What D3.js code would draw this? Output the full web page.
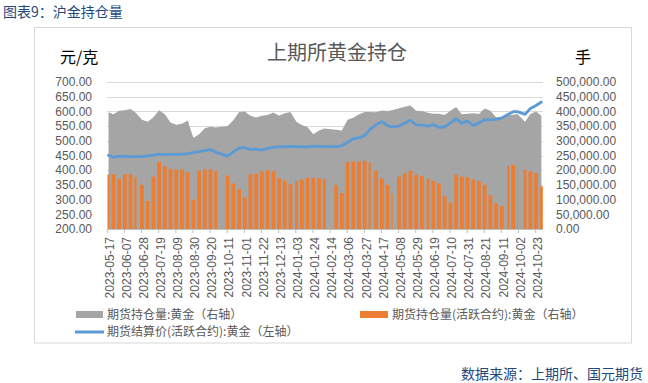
<!DOCTYPE html>
<meta charset="utf-8">
<style>
body { margin: 0; background: #fff; }
text { font-family: "Liberation Sans", Arial, sans-serif; }
.cjk { font-family: "Noto Sans CJK SC", "Liberation Sans", sans-serif; }
.axis-label { font-size: 12px; fill: #595959; }
.grid line { stroke: #d9d9d9; stroke-width: 1; shape-rendering: crispEdges; }
.legend text { font-size: 12px; fill: #595959; }
</style>
<body>
<div id="chart"></div>
<script src="https://cdnjs.cloudflare.com/ajax/libs/d3/7.8.5/d3.min.js"></script>
<script>

// weekly readings (Monday of each trading week)
var weekStarts = [
  "2023-05-15","2023-05-22","2023-05-29","2023-06-05","2023-06-12","2023-06-19","2023-06-26","2023-07-03","2023-07-10","2023-07-17",
  "2023-07-24","2023-07-31","2023-08-07","2023-08-14","2023-08-21","2023-08-28","2023-09-04","2023-09-11","2023-09-18","2023-09-25",
  "2023-10-02","2023-10-09","2023-10-16","2023-10-23","2023-10-30","2023-11-06","2023-11-13","2023-11-20","2023-11-27","2023-12-04",
  "2023-12-11","2023-12-18","2023-12-25","2024-01-01","2024-01-08","2024-01-15","2024-01-22","2024-01-29","2024-02-05","2024-02-12",
  "2024-02-19","2024-02-26","2024-03-04","2024-03-11","2024-03-18","2024-03-25","2024-04-01","2024-04-08","2024-04-15","2024-04-22",
  "2024-04-29","2024-05-06","2024-05-13","2024-05-20","2024-05-27","2024-06-03","2024-06-10","2024-06-17","2024-06-24","2024-07-01",
  "2024-07-08","2024-07-15","2024-07-22","2024-07-29","2024-08-05","2024-08-12","2024-08-19","2024-08-26","2024-09-02","2024-09-09",
  "2024-09-16","2024-09-23","2024-09-30","2024-10-07","2024-10-14","2024-10-21","2024-10-28"
];

// 期货持仓量:黄金 (手, right axis)
var totalOI = [
  397000,390000,402000,404000,408000,396000,372000,365000,380000,404000,
  390000,362000,355000,358000,369000,310000,322000,343000,348000,345000,
  null,350000,370000,398000,400000,385000,379000,385000,388000,396000,
  385000,394000,398000,364000,354000,346000,322000,335000,342000,null,
  338000,335000,372000,378000,390000,398000,398000,397000,403000,401000,
  404000,411000,416000,420000,402000,401000,395000,392000,392000,388000,
  402000,415000,390000,392000,394000,391000,410000,402000,380000,380000,
  387000,389000,391000,365000,391000,400000,385000
];

// 期货持仓量(活跃合约):黄金 (手, right axis)
var activeOI = [
  186000,186000,170000,186000,187000,176000,150000,95000,178000,228000,
  213000,205000,202000,202000,193000,100000,198000,203000,203000,198000,
  null,182000,155000,135000,108000,186000,188000,196000,200000,197000,
  174000,165000,152000,162000,168000,175000,173000,172000,170000,null,
  150000,122000,228000,230000,229000,232000,226000,198000,172000,150000,
  120000,178000,190000,198000,184000,180000,170000,163000,155000,112000,
  90000,185000,178000,177000,168000,162000,150000,115000,88000,78000,
  215000,218000,212000,202000,196000,190000,145000
];

// 期货结算价(活跃合约):黄金 (元/克, left axis)
var settlePrice = [
  451,444,448,447,446,446,446,449,451,455,
  453,454,454,455,456,460,463,467,470,461,
  null,448,462,475,477,471,472,468,474,478,
  479,480,481,480,479,479,482,481,480,null,
  480,483,495,507,510,518,537,555,565,552,
  547,550,560,570,554,553,550,555,546,547,
  561,575,560,567,552,561,572,571,573,578,
  590,599,599,590,610,620,632
];

// exchange closed on these weekdays
var holidays = [
  "2023-06-22","2023-06-23","2023-09-29","2023-10-02","2023-10-03","2023-10-04","2023-10-05","2023-10-06",
  "2024-01-01","2024-02-09","2024-02-12","2024-02-13","2024-02-14","2024-02-15","2024-02-16",
  "2024-04-04","2024-04-05","2024-05-01","2024-05-02","2024-05-03","2024-06-10",
  "2024-09-16","2024-09-17","2024-10-01","2024-10-02","2024-10-03","2024-10-04","2024-10-07"
];
var firstDay = "2023-05-17", lastDay = "2024-10-31";

var dateTicks = [
  "2023-05-17","2023-06-07","2023-06-28","2023-07-19","2023-08-09","2023-08-30","2023-09-20","2023-10-11","2023-11-01",
  "2023-11-22","2023-12-13","2024-01-03","2024-01-24","2024-02-14","2024-03-06","2024-03-27","2024-04-17","2024-05-08",
  "2024-05-29","2024-06-19","2024-07-10","2024-07-31","2024-08-21","2024-09-11","2024-10-02","2024-10-23"
];
var leftTicks = [200, 250, 300, 350, 400, 450, 500, 550, 600, 650, 700];
var rightTicks = [0, 50000, 100000, 150000, 200000, 250000, 300000, 350000, 400000, 450000, 500000];

var seriesNames = ["期货持仓量:黄金（右轴）", "期货持仓量(活跃合约):黄金（右轴）", "期货结算价(活跃合约):黄金（左轴）"];
var colors = ["#a5a5a5", "#ed7d31", "#5b9bd5"];

// plot box
var W = 648, H = 383;
var plot = {left: 107.3, right: 543, top: 82, bottom: 229};

var parse = d3.utcParse("%Y-%m-%d");
var fmtDay = d3.utcFormat("%Y-%m-%d");
var holidaySet = new Set(holidays);
var dStart = parse(firstDay), dEnd = parse(lastDay);

var x = d3.scaleUtc()
    .domain([dStart, d3.utcDay.offset(dEnd, 1)])
    .range([plot.left, plot.right]);
var yL = d3.scaleLinear().domain([200, 700]).range([plot.bottom, plot.top]);
var yR = d3.scaleLinear().domain([0, 500000]).range([plot.bottom, plot.top]);

// trading days of each week, split into contiguous runs
var weeks = weekStarts.map(function(s, i) {
  var mon = parse(s);
  var days = d3.utcDay.range(mon, d3.utcDay.offset(mon, 5)).filter(function(d) {
    return d >= dStart && d <= dEnd && !holidaySet.has(fmtDay(d));
  });
  var runs = [];
  days.forEach(function(d) {
    var last = runs[runs.length - 1];
    if (last && +d3.utcDay.offset(last[1], 1) === +d) last[1] = d;
    else runs.push([d, d]);
  });
  var mid = days.length
    ? new Date((+days[0] + +d3.utcDay.offset(days[days.length - 1], 1)) / 2)
    : null;
  return {runs: runs, mid: mid, total: totalOI[i], active: activeOI[i], price: settlePrice[i]};
});
var traded = weeks.filter(function(w) { return w.mid && w.total != null; });

var svg = d3.select("#chart").append("svg")
    .attr("width", W)
    .attr("height", H);

svg.append("rect").attr("width", W).attr("height", H).attr("fill", "#fff");

// report title
svg.append("text")
    .attr("class", "cjk")
    .attr("x", 3).attr("y", 17)
    .style("font-size", "14px")
    .style("fill", "#1f497d")
    .text("图表9：沪金持仓量");

// chart frame
svg.append("rect")
    .attr("x", 34.5).attr("y", 27.5)
    .attr("width", 597).attr("height", 315.5)
    .attr("fill", "#fff")
    .attr("stroke", "#d9d9d9");

svg.append("text")
    .attr("class", "cjk")
    .attr("x", 337).attr("y", 60)
    .attr("text-anchor", "middle")
    .style("font-size", "20px")
    .style("fill", "#595959")
    .text("上期所黄金持仓");

svg.append("text").attr("class", "cjk")
    .attr("x", 60).attr("y", 63)
    .style("font-size", "16px").style("fill", "#000")
    .text("元/克");
svg.append("text").attr("class", "cjk")
    .attr("x", 575).attr("y", 63)
    .style("font-size", "16px").style("fill", "#000")
    .text("手");

// gridlines
svg.append("g").attr("class", "grid")
  .selectAll("line")
  .data(leftTicks)
  .enter().append("line")
    .attr("x1", plot.left).attr("x2", plot.right)
    .attr("y1", function(d) { return Math.round(yL(d)) + 0.5; })
    .attr("y2", function(d) { return Math.round(yL(d)) + 0.5; });

// gray area: total open interest
var area = d3.area()
    .x(function(d) { return x(d.mid); })
    .y0(yR(0))
    .y1(function(d) { return yR(d.total); });
svg.append("path")
    .datum(traded)
    .attr("fill", colors[0])
    .attr("d", area);

// orange columns: active contract
var pad = 0.2;
var runs = [];
weeks.forEach(function(w) {
  if (w.active == null) return;
  w.runs.forEach(function(r) { runs.push({a: r[0], b: r[1], v: w.active}); });
});
svg.append("g")
  .selectAll("rect")
  .data(runs)
  .enter().append("rect")
    .attr("x", function(d) { return x(d.a) + pad * (x(d3.utcDay.offset(d.a, 1)) - x(d.a)); })
    .attr("width", function(d) {
      var day = x(d3.utcDay.offset(d.a, 1)) - x(d.a);
      return x(d3.utcDay.offset(d.b, 1)) - x(d.a) - 2 * pad * day;
    })
    .attr("y", function(d) { return yR(d.v); })
    .attr("height", function(d) { return yR(0) - yR(d.v); })
    .attr("fill", colors[1]);

// x axis
var xAxis = svg.append("g");
xAxis.append("line")
    .attr("x1", plot.left).attr("x2", plot.right)
    .attr("y1", plot.bottom + 0.5).attr("y2", plot.bottom + 0.5)
    .attr("stroke", "#bfbfbf");
var tk = xAxis.selectAll(".xt")
  .data(dateTicks)
  .enter().append("g")
    .attr("class", "xt")
    .attr("transform", function(d) { return "translate(" + x(parse(d)) + ",0)"; });
tk.append("line")
    .attr("y1", plot.bottom).attr("y2", plot.bottom + 4)
    .attr("stroke", "#bfbfbf");
tk.append("text")
    .attr("class", "axis-label")
    .attr("transform", "translate(2," + (plot.bottom + 8) + ") rotate(-90)")
    .attr("text-anchor", "end")
    .attr("dy", "0.35em")
    .text(function(d) { return d; });

// blue line: settlement price
var line = d3.line()
    .x(function(d) { return x(d.mid); })
    .y(function(d) { return yL(d.price); });
svg.append("path")
    .datum(traded)
    .attr("fill", "none")
    .attr("stroke", colors[2])
    .attr("stroke-width", 2.8)
    .attr("stroke-linejoin", "round")
    .attr("stroke-linecap", "round")
    .attr("d", line);

// y axis labels
svg.append("g").selectAll("text")
  .data(leftTicks)
  .enter().append("text")
    .attr("class", "axis-label")
    .attr("x", 92).attr("y", function(d) { return yL(d); })
    .attr("dy", "0.35em")
    .attr("text-anchor", "end")
    .text(d3.format(".2f"));
svg.append("g").selectAll("text")
  .data(rightTicks)
  .enter().append("text")
    .attr("class", "axis-label")
    .attr("x", 556).attr("y", function(d) { return yR(d); })
    .attr("dy", "0.35em")
    .text(d3.format(",.2f"));

// legend
var lg = svg.append("g").attr("class", "legend cjk");
lg.append("rect").attr("x", 76).attr("y", 311).attr("width", 27).attr("height", 7).attr("fill", colors[0]);
lg.append("text").attr("class", "cjk").attr("x", 107).attr("y", 314.5).attr("dy", "0.35em").text(seriesNames[0]);
lg.append("rect").attr("x", 360).attr("y", 311).attr("width", 28).attr("height", 7).attr("fill", colors[1]);
lg.append("text").attr("class", "cjk").attr("x", 392).attr("y", 314.5).attr("dy", "0.35em").text(seriesNames[1]);
lg.append("line").attr("x1", 75).attr("x2", 104).attr("y1", 332).attr("y2", 332)
    .attr("stroke", colors[2]).attr("stroke-width", 3);
lg.append("text").attr("class", "cjk").attr("x", 107).attr("y", 332).attr("dy", "0.35em").text(seriesNames[2]);

// source note
svg.append("text")
    .attr("class", "cjk")
    .attr("x", 643).attr("y", 379)
    .attr("text-anchor", "end")
    .style("font-size", "14px")
    .style("fill", "#1f497d")
    .text("数据来源：上期所、国元期货");

</script>
</body>
